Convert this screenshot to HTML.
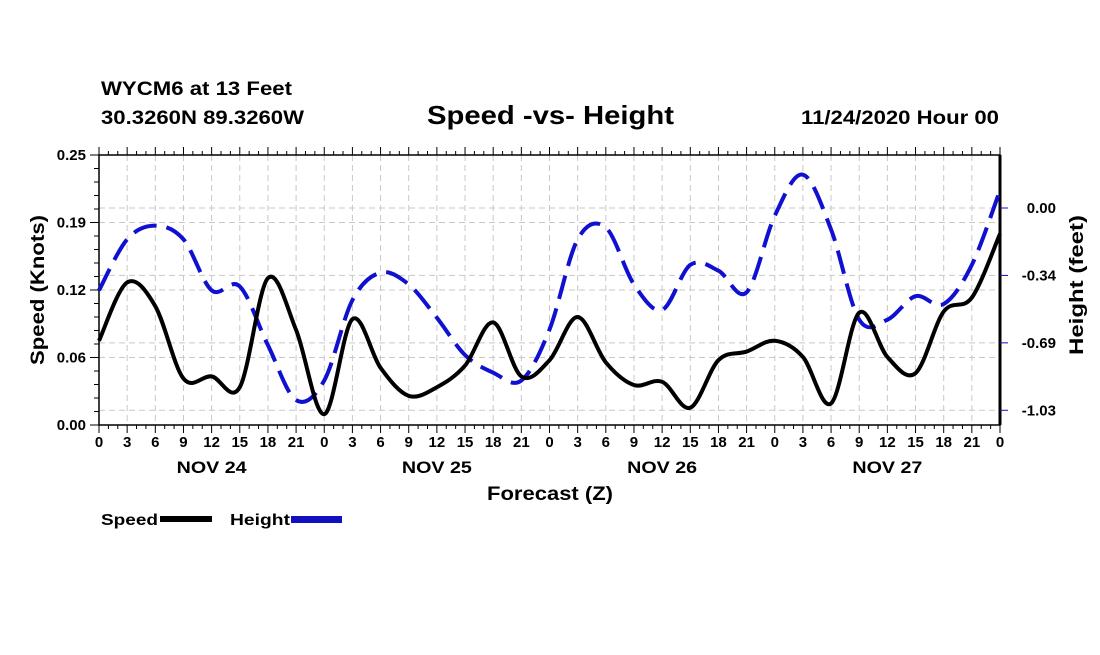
<!DOCTYPE html>
<html><head><meta charset="utf-8"><style>
body{margin:0;background:#fff;font-family:"Liberation Sans",sans-serif}
svg text{font-family:"Liberation Sans",sans-serif;font-weight:bold}
</style></head><body>
<svg id="c" width="1100" height="650">
<text x="101" y="95" font-size="19" textLength="191" lengthAdjust="spacingAndGlyphs">WYCM6 at 13 Feet</text>
<text x="101" y="124" font-size="19" textLength="203" lengthAdjust="spacingAndGlyphs">30.3260N 89.3260W</text>
<text x="427" y="124" font-size="26" textLength="247" lengthAdjust="spacingAndGlyphs">Speed -vs- Height</text>
<text x="801" y="124" font-size="19" textLength="198" lengthAdjust="spacingAndGlyphs">11/24/2020 Hour 00</text>
<g id="grid"></g>
<g id="axes"></g>
<g id="series"></g>
<text x="487" y="500" font-size="19" textLength="126" lengthAdjust="spacingAndGlyphs">Forecast (Z)</text>
<text transform="translate(44,365) rotate(-90)" font-size="19" textLength="150" lengthAdjust="spacingAndGlyphs">Speed (Knots)</text>
<text transform="translate(1083,355) rotate(-90)" font-size="19" textLength="140" lengthAdjust="spacingAndGlyphs">Height (feet)</text>
<g>
<text x="101" y="525" font-size="16" textLength="57" lengthAdjust="spacingAndGlyphs">Speed</text>
<rect x="160" y="516" width="52" height="6" fill="#000"/>
<text x="230" y="525" font-size="16" textLength="60" lengthAdjust="spacingAndGlyphs">Height</text>
<rect x="291" y="516" width="51" height="7" fill="#1010c0"/>
</g>
</svg>
<script>
const hourLabels=["0","3","6","9","12","15","18","21"];
const dayLabels=["NOV 24","NOV 25","NOV 26","NOV 27"];
const speedTicks=[0,0.0625,0.125,0.1875,0.25];
const speedTickLabels=["0.00","0.06","0.12","0.19","0.25"];
const heightTicks=[0,-0.344,-0.688,-1.032];
const heightTickLabels=["0.00","-0.34","-0.69","-1.03"];
const speed=[0.078,0.132,0.110,0.043,0.045,0.035,0.136,0.088,0.010,0.098,0.053,0.027,0.035,0.055,0.095,0.045,0.060,0.100,0.058,0.037,0.040,0.016,0.060,0.068,0.078,0.063,0.020,0.104,0.063,0.048,0.105,0.118,0.177];
const height=[-0.42,-0.16,-0.09,-0.16,-0.42,-0.40,-0.70,-0.98,-0.88,-0.47,-0.33,-0.39,-0.56,-0.75,-0.84,-0.88,-0.62,-0.16,-0.10,-0.39,-0.52,-0.29,-0.32,-0.43,-0.04,0.17,-0.11,-0.57,-0.57,-0.45,-0.49,-0.29,0.09];
const NS="http://www.w3.org/2000/svg";
const L=99,R=1000,T=155,B=425;
const xs=i=>L+(R-L)*i/32;
const ys=v=>B-(B-T)*v/0.25;
const yh=v=>208-v*196;
function mk(p,tag,a){const e=document.createElementNS(NS,tag);for(const k in a)e.setAttribute(k,a[k]);p.appendChild(e);return e;}
const grid=document.getElementById('grid'),axes=document.getElementById('axes'),ser=document.getElementById('series');
for(let i=1;i<32;i++){const g=mk(grid,'line',{x1:xs(i),x2:xs(i),y1:T,y2:B,stroke:'#c8c8c8','stroke-dasharray':'6 4'});

}
speedTicks.slice(1,4).forEach(v=>{const g=mk(grid,'line',{x1:L,x2:R,y1:ys(v),y2:ys(v),stroke:'#c8c8c8','stroke-dasharray':'6 4'});

});
heightTicks.forEach(v=>{const g=mk(grid,'line',{x1:L,x2:R,y1:yh(v),y2:yh(v),stroke:'#c8c8c8','stroke-dasharray':'6 4'});

});
mk(axes,'rect',{x:L,y:T,width:R-L,height:B-T,fill:'none',stroke:'#000','stroke-width':1.5});
mk(axes,'line',{x1:R,x2:R,y1:T,y2:B,stroke:'#000','stroke-width':3});
for(let i=0;i<=32;i++){const x=xs(i);
mk(axes,'line',{x1:x,x2:x,y1:B,y2:B+8,stroke:'#000'});mk(axes,'line',{x1:x,x2:x,y1:T,y2:T-8,stroke:'#000'});
if(i<32)for(let k=1;k<3;k++){const xm=x+(R-L)/96*k;mk(axes,'line',{x1:xm,x2:xm,y1:B,y2:B+4,stroke:'#000'});mk(axes,'line',{x1:xm,x2:xm,y1:T,y2:T-4,stroke:'#000'});}
const t=mk(axes,'text',{x:x,y:B+22,'font-size':15,'text-anchor':'middle'});t.textContent=hourLabels[i%8];

}
dayLabels.forEach((d,j)=>{const t=mk(axes,'text',{x:xs(j*8+4),y:B+48,'font-size':17,'text-anchor':'middle',textLength:70,lengthAdjust:'spacingAndGlyphs'});t.textContent=d;

});
speedTicks.forEach((v,j)=>{const y=ys(v);mk(axes,'line',{x1:L-9,x2:L,y1:y,y2:y,stroke:'#000'});
const t=mk(axes,'text',{x:L-13,y:y+5,'font-size':15,'text-anchor':'end'});t.textContent=speedTickLabels[j];


if(j<4)for(let k=1;k<5;k++){const ym=y-(B-T)/20*k;mk(axes,'line',{x1:L-5,x2:L,y1:ym,y2:ym,stroke:'#000'});}});
heightTicks.forEach((v,j)=>{const y=yh(v);mk(axes,'line',{x1:R,x2:R+8,y1:y,y2:y,stroke:'#1010c0'});
const t=mk(axes,'text',{x:R+56,y:y+5,'font-size':15,'text-anchor':'end'});t.textContent=heightTickLabels[j];

});
function path(pts){let d='M'+pts[0][0]+','+pts[0][1];
for(let i=0;i<pts.length-1;i++){const p0=pts[Math.max(0,i-1)],p1=pts[i],p2=pts[i+1],p3=pts[Math.min(pts.length-1,i+2)];
d+=' C'+(p1[0]+(p2[0]-p0[0])/6)+','+(p1[1]+(p2[1]-p0[1])/6)+' '+(p2[0]-(p3[0]-p1[0])/6)+','+(p2[1]-(p3[1]-p1[1])/6)+' '+p2[0]+','+p2[1];}
return d;}
const hp=mk(ser,'path',{d:path(height.map((v,i)=>[xs(i),yh(v)])),fill:'none',stroke:'#1010d0','stroke-width':4,'stroke-dasharray':'24 10'});


const sp=mk(ser,'path',{d:path(speed.map((v,i)=>[xs(i),ys(v)])),fill:'none',stroke:'#000','stroke-width':4});


</script>
</body></html>
